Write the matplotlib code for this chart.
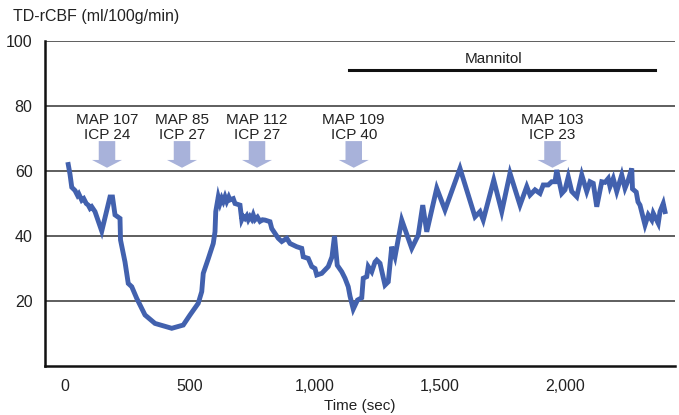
import matplotlib
matplotlib.use("Agg")
import matplotlib.pyplot as plt
from matplotlib.patches import Polygon

plt.rcParams['font.family'] = ['Liberation Sans Narrow', 'Liberation Sans', 'DejaVu Sans']

time_sec = [13, 20, 27, 40, 50, 55, 67, 75, 85, 93, 100, 107, 120, 147, 180, 190, 200, 220, 222,
            240, 253, 267, 287, 320, 360, 427, 473, 500, 533, 547, 553, 573, 593, 600, 603, 613,
            620, 627, 633, 640, 647, 655, 660, 673, 680, 700, 707, 713, 720, 727, 733, 740, 747,
            753, 760, 770, 780, 790, 800, 820, 827, 840, 853, 867, 887, 900, 927, 947, 953, 973,
            987, 1000, 1007, 1027, 1053, 1068, 1078, 1089, 1107, 1120, 1133, 1140, 1153, 1170,
            1187, 1193, 1207, 1213, 1227, 1240, 1247, 1260, 1280, 1293, 1307, 1320, 1347, 1387,
            1413, 1431, 1447, 1487, 1520, 1580, 1640, 1660, 1673, 1715, 1747, 1780, 1820, 1847,
            1860, 1880, 1900, 1913, 1933, 1947, 1960, 1967, 1987, 2000, 2013, 2027, 2047, 2067,
            2087, 2100, 2113, 2127, 2147, 2160, 2173, 2180, 2193, 2207, 2227, 2240, 2253, 2267,
            2270, 2285, 2292, 2300, 2320, 2333, 2347, 2353, 2373, 2380, 2393, 2400]
rcbf = [62, 59, 55, 54, 52.5, 53, 51, 51.5, 50, 49.5, 48.5, 49, 47.5, 41.5, 52, 52, 46.5, 45.4, 38.8,
        32, 25.4, 24.4, 20.8, 15.7, 13.1, 11.6, 12.6, 15.7, 19.3, 22.9, 28.5, 33, 37.7, 41.3, 47.5, 52,
        50, 51.6, 50.6, 52.1, 50.6, 52, 51.1, 51.5, 50, 49.5, 45, 46, 45.4, 46.2, 45, 46, 45.2,
        46.5, 45, 45.8, 44.5, 45, 44.9, 44.4, 42.3, 40.8, 39.3, 38.3, 39.3, 37.7, 36.7, 36.2, 33.6, 33.1,
        30.6, 30, 28, 28.5, 30.6, 33.6, 40, 31, 29, 27, 24.4, 21.5, 17.5, 20.3,
        21, 27, 27.5, 30.6, 29, 32, 32.6, 31.6, 24.9, 25.9, 36.7, 33.6, 44.9, 36.2,
        40.3, 49.5, 41.3, 54.7, 48, 60.8, 45.9, 47.5, 44.9, 57.2, 47.5, 59.3, 49.5, 55.2,
        52.6, 54.2, 53.1, 55.7, 55.7, 56.7, 56.7, 60.3, 53.1, 54.2, 58.2, 53.7, 52.1, 58.8,
        53.7, 56.7, 56.2, 49, 56.7, 56.5, 57.7, 55.2, 57.7, 53.7, 58.8, 54.7, 57.2, 60.8,
        54.5, 53.5, 50.5, 49.5, 43.4, 46.5, 44.9, 47, 43.9, 47.5, 50, 47.5]

event_times = [168, 468, 768, 1155, 1950]
event_map = ["MAP 107", "MAP 85", "MAP 112", "MAP 109", "MAP 103"]
event_icp = ["ICP 24", "ICP 27", "ICP 27", "ICP 40", "ICP 23"]
mannitol_start, mannitol_end = 1136, 2360

x_ticks = [0, 500, 1000, 1500, 2000]
x_tick_labels = ["0", "500", "1,000", "1,500", "2,000"]
y_ticks = [20, 40, 60, 80, 100]

FS = 11
TXT = '#222222'

fig = plt.figure(figsize=(6.79, 4.15), dpi=100)
ax = fig.add_axes([45/679, 1-366/415, (675-45)/679, (366-41)/415])
ax.set_xlim(-80, 2440)
ax.set_ylim(0, 100)

for yv in y_ticks:
    ax.axhline(yv, color='#333333', lw=1.1, zorder=1)

ax.plot(time_sec, rcbf, color='#4261ae', lw=3.5, solid_joinstyle='miter', zorder=3)

# arrows and event labels
arrow_col = '#a8b2da'
for t, m, c in zip(event_times, event_map, event_icp):
    sw, hw = 33, 60
    ytop, yhead, ytip = 69.2, 63.4, 61.0
    pts = [(t - sw, ytop), (t + sw, ytop), (t + sw, yhead), (t + hw, yhead),
           (t, ytip), (t - hw, yhead), (t - sw, yhead)]
    ax.add_patch(Polygon(pts, closed=True, color=arrow_col, lw=0, zorder=2))
    ax.text(t, 74.6, m, ha='center', va='baseline', fontsize=FS, color=TXT)
    ax.text(t, 70.0, c, ha='center', va='baseline', fontsize=FS, color=TXT)

ax.plot([mannitol_start, mannitol_end], [91, 91], color='#111111', lw=2.2)
ax.text(1716, 93.3, "Mannitol", ha='center', va='baseline', fontsize=FS, color=TXT)

for s in ['top', 'right']:
    ax.spines[s].set_visible(False)
for s in ['left', 'bottom']:
    ax.spines[s].set_linewidth(1.8)
    ax.spines[s].set_color('#111111')

ax.set_xticks(x_ticks)
ax.set_xticklabels(x_tick_labels)
ax.set_yticks(y_ticks)
ax.tick_params(length=0, labelsize=11.5, colors=TXT, pad=9)
ax.tick_params(axis='y', pad=9)

fig.text(13/679, 1-17/415, "TD-rCBF (ml/100g/min)", ha='left', va='center', fontsize=11.5, color=TXT)
ax.set_xlabel("Time (sec)", fontsize=FS, color=TXT, labelpad=4)

fig.savefig("out.png", dpi=100)
